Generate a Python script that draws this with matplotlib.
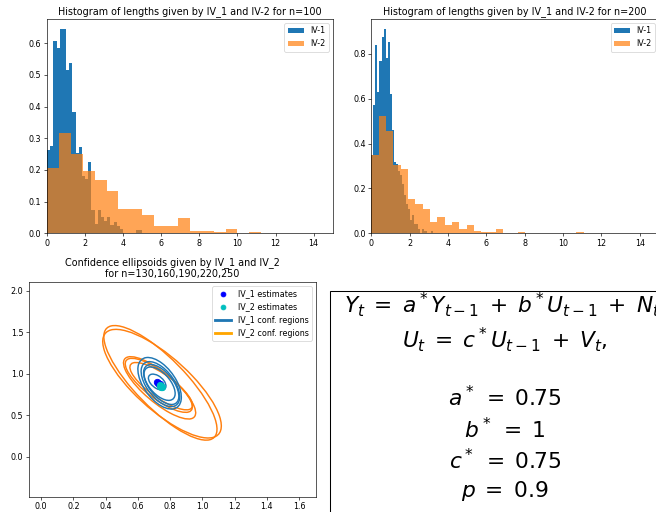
import numpy as np
import matplotlib.pyplot as plt
from matplotlib.lines import Line2D
from matplotlib.patches import Ellipse, Rectangle

DPI = 58
plt.rcParams["mathtext.fontset"] = "dejavusans"

# --- histogram densities, n=100 ---
IV1_N100_RANGE = (0.0, 5.0)
IV1_N100 = [0.263, 0.276, 0.608, 0.584, 0.644, 0.644, 0.514, 0.537, 0.382, 0.253,
            0.273, 0.180, 0.170, 0.226, 0.074, 0.030, 0.072, 0.050, 0.040, 0.050,
            0.026, 0.037, 0.023, 0.013, 0.0, 0.0, 0.0, 0.0, 0.0105, 0.0105]
IV2_N100_RANGE = (0.0, 11.25)
IV2_N100 = [0.207, 0.316, 0.250, 0.196, 0.167, 0.134, 0.076, 0.076, 0.058, 0.024,
            0.024, 0.049, 0.007, 0.007, 0.004, 0.0126, 0.0, 0.004]

# --- histogram densities, n=200 ---
IV1_N200_RANGE = (0.0, 3.2)
IV1_N200 = [0.35, 0.57, 0.84, 0.63, 0.77, 0.875, 0.91, 0.78, 0.855, 0.62,
            0.46, 0.32, 0.31, 0.28, 0.26, 0.22, 0.17, 0.13, 0.11, 0.06,
            0.08, 0.04, 0.04, 0.02, 0.0, 0.02, 0.01, 0.0, 0.0, 0.01]
IV2_N200_RANGE = (0.0, 11.08)
IV2_N200 = [0.350, 0.525, 0.455, 0.305, 0.286, 0.152, 0.131, 0.107, 0.052, 0.072,
            0.037, 0.052, 0.018, 0.037, 0.012, 0.006, 0.006, 0.020, 0.0, 0.0,
            0.006, 0.0, 0.0, 0.0, 0.0, 0.0, 0.0, 0.0, 0.006]

# --- estimates and confidence ellipses (n=130,160,190,220,250) ---
IV1_EST_X = [0.725, 0.730, 0.735, 0.720, 0.740]
IV1_EST_Y = [0.890, 0.880, 0.870, 0.900, 0.875]
IV2_EST_X = [0.740, 0.745, 0.750, 0.735, 0.745]
IV2_EST_Y = [0.855, 0.850, 0.840, 0.860, 0.845]

IV1_ELL_CX = [0.735, 0.740, 0.745, 0.735, 0.720]
IV1_ELL_CY = [0.885, 0.875, 0.870, 0.880, 0.900]
IV1_ELL_W = [0.64, 0.56, 0.50, 0.42, 0.20]
IV1_ELL_H = [0.22, 0.19, 0.17, 0.15, 0.09]
IV1_ELL_ANGLE = [-75, -74, -73, -72, -70]

IV2_ELL_CX = [0.740, 0.750, 0.735, 0.730, 0.745]
IV2_ELL_CY = [0.890, 0.880, 0.830, 0.860, 0.850]
IV2_ELL_W = [1.50, 1.44, 0.84, 0.74, 0.66]
IV2_ELL_H = [0.38, 0.42, 0.24, 0.22, 0.20]
IV2_ELL_ANGLE = [-66, -64, -62, -60, -58]

MODEL_LINES = [
    r"$Y_t \;=\; a^*Y_{t-1} \;+\; b^*U_{t-1} \;+\; N_t,$",
    r"$U_t \;=\; c^*U_{t-1} \;+\; V_t,$",
    "",
    r"$a^* \;=\; 0.75$",
    r"$b^* \;=\; 1$",
    r"$c^* \;=\; 0.75$",
    r"$p \;=\; 0.9$",
]


def px_rect(left, top, right, bottom, w=656, h=512):
    return [left / w, 1 - bottom / h, (right - left) / w, (bottom - top) / h]


def draw_hist(ax, series, n):
    for heights, rng, label, alpha in series:
        edges = np.linspace(rng[0], rng[1], len(heights) + 1)
        ax.hist(edges[:-1], bins=edges, weights=heights, alpha=alpha, label=label)
    ax.set_xlim(0, 15)
    ax.set_title(f"Histogram of lengths given by IV_1 and IV-2 for n={n}")
    ax.legend(loc="upper right")


fig = plt.figure(figsize=(656 / DPI, 512 / DPI), dpi=DPI)

ax1 = fig.add_axes(px_rect(47, 19, 332.7, 233.3))
draw_hist(ax1, [(IV1_N100, IV1_N100_RANGE, "IV-1", 1.0),
                (IV2_N100, IV2_N100_RANGE, "IV-2", 0.7)], 100)

ax2 = fig.add_axes(px_rect(371.3, 19, 659, 233.3))
draw_hist(ax2, [(IV1_N200, IV1_N200_RANGE, "IV-1", 1.0),
                (IV2_N200, IV2_N200_RANGE, "IV-2", 0.7)], 200)

ax3 = fig.add_axes(px_rect(29, 282.3, 316, 496.7))
for cx, cy, w, h, ang in zip(IV2_ELL_CX, IV2_ELL_CY, IV2_ELL_W, IV2_ELL_H, IV2_ELL_ANGLE):
    ax3.add_patch(Ellipse((cx, cy), w, h, angle=ang, fill=False, ec="C1", lw=1.8))
for cx, cy, w, h, ang in zip(IV1_ELL_CX, IV1_ELL_CY, IV1_ELL_W, IV1_ELL_H, IV1_ELL_ANGLE):
    ax3.add_patch(Ellipse((cx, cy), w, h, angle=ang, fill=False, ec="C0", lw=1.8))
ax3.plot(IV1_EST_X, IV1_EST_Y, "o", color="b", ms=8)
ax3.plot(IV2_EST_X, IV2_EST_Y, "o", color="c", ms=8)
ax3.set_xlim(-0.075, 1.705)
ax3.set_ylim(-0.48, 2.1)
ax3.set_title("Confidence ellipsoids given by IV_1 and IV_2\nfor n=130,160,190,220,250")
handles = [
    Line2D([], [], ls="", marker="o", color="b", ms=6),
    Line2D([], [], ls="", marker="o", color="c", ms=6),
    Line2D([], [], color="C0", lw=3.5),
    Line2D([], [], color="orange", lw=3.5),
]
ax3.legend(handles, ["IV_1 estimates", "IV_2 estimates", "IV_1 conf. regions", "IV_2 conf. regions"],
           loc="upper right")

# parameter box, cut off by the figure edge like the original
fig.patches.append(Rectangle((330 / 656, -0.1), 0.6, 1.1 - 290.7 / 512,
                             transform=fig.transFigure, fill=False, ec="black", lw=1.3))
fig.text(505 / 656, 1 - 497 / 512, "\n".join(MODEL_LINES), ha="center", va="baseline",
         fontsize=27, linespacing=1.3)

fig.savefig("out.png", dpi=DPI)
